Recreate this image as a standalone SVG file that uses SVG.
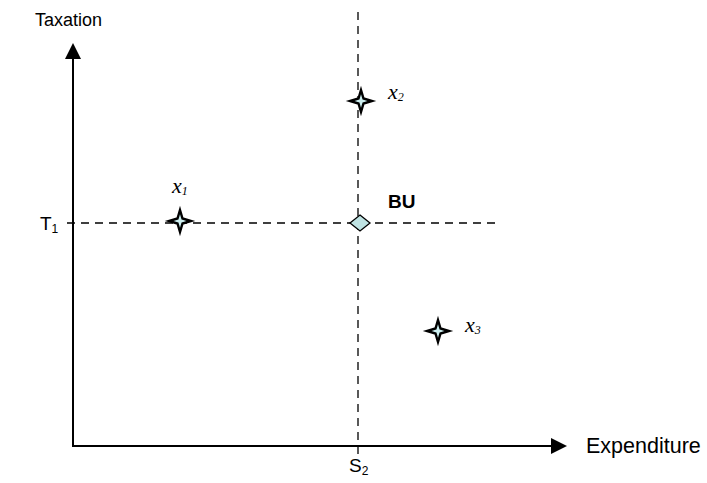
<svg xmlns="http://www.w3.org/2000/svg" width="707" height="483" viewBox="0 0 707 483">
<defs>
<style>
.lbl{font-family:"Liberation Sans",Arial,sans-serif;font-size:19px;fill:#000}
.var{font-family:"Liberation Serif","Times New Roman",serif;font-style:italic;font-size:22px;fill:#000}
.sub{font-size:12px}
.dash{stroke:#000;stroke-width:1.3;stroke-dasharray:8,6;fill:none}
.axis{stroke:#000;stroke-width:2;fill:none}
.star{fill:#cdeff0;stroke:#000;stroke-width:2.4;stroke-linejoin:miter}
</style>
<path id="st" d="M0,-11 L2.5,-2.5 L11,0 L2.5,2.5 L0,11 L-2.5,2.5 L-11,0 L-2.5,-2.5 Z"/>
</defs>
<g id="connectors">
<line class="dash" x1="67" y1="223" x2="497" y2="223"/>
<line class="dash" x1="358" y1="12" x2="358" y2="456"/>
<line class="axis" x1="73" y1="446" x2="73" y2="56"/>
<polygon points="73,43 65,59 81,59" fill="#000"/>
<line class="axis" x1="72" y1="446" x2="552" y2="446"/>
<polygon points="567,446 551,438 551,454" fill="#000"/>
</g>
<g id="axis-y-label"><text class="lbl" x="35" y="26" style="font-size:18px">Taxation</text></g>
<g id="axis-x-label"><text class="lbl" x="586" y="453" style="font-size:21.5px">Expenditure</text></g>
<g id="T1"><text class="lbl" x="40" y="230">T<tspan class="sub" dy="3">1</tspan></text></g>
<g id="S2"><text class="lbl" x="349" y="472">S<tspan class="sub" dy="3">2</tspan></text></g>
<g id="x1"><use href="#st" class="star" x="180" y="221"/><text class="var" x="172" y="193">x<tspan class="sub" dy="2">1</tspan></text></g>
<g id="x2"><use href="#st" class="star" x="361" y="101"/><text class="var" x="388" y="99">x<tspan class="sub" dy="2">2</tspan></text></g>
<g id="x3"><use href="#st" class="star" x="438" y="331"/><text class="var" x="465" y="332">x<tspan class="sub" dy="2">3</tspan></text></g>
<g id="BU"><polygon points="360,215 370,223 360,231 350,223" fill="#bfe3e3" stroke="#000" stroke-width="1.3"/><text class="lbl" x="388" y="208" font-weight="bold">BU</text></g>
</svg>
